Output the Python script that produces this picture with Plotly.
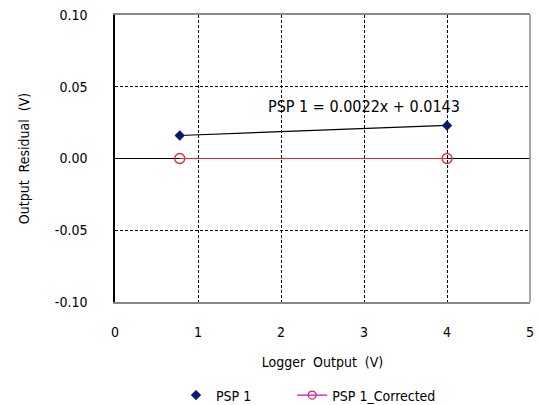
import plotly.graph_objects as go

# Data
logger_output = [0.78, 4.0]
psp1_residual = [0.016, 0.023]
psp1_corrected = [0.0, 0.0]
trend_slope = 0.0022
trend_intercept = 0.0143
x_ticks = [0, 1, 2, 3, 4, 5]
y_ticks = [-0.10, -0.05, 0.00, 0.05, 0.10]
y_tick_text = ["-0.10", "-0.05", "0.00", "0.05", "0.10"]

trend_y = [trend_slope * x + trend_intercept for x in logger_output]

FAM = "Liberation Sans Narrow, DejaVu Sans Condensed, Arial Narrow, sans-serif"
font = dict(family=FAM, size=14, color="black")

fig = go.Figure()
fig.add_trace(go.Scatter(x=logger_output, y=trend_y, mode="lines",
                         line=dict(color="black", width=1.2), showlegend=False,
                         hoverinfo="skip"))
fig.add_trace(go.Scatter(x=logger_output, y=psp1_corrected, mode="lines+markers",
                         name="PSP 1_Corrected", showlegend=False,
                         line=dict(color="#e8242c", width=1.2),
                         marker=dict(symbol="circle-open", size=10, color="#e8242c",
                                     line=dict(width=1.3))))
fig.add_trace(go.Scatter(x=logger_output, y=psp1_residual, mode="markers",
                         name="PSP 1", legend="legend",
                         marker=dict(symbol="diamond", size=8, color="#0a1a6e")))
# legend entry for the corrected series (legend swatch is drawn magenta in the original)
fig.add_trace(go.Scatter(x=[None], y=[None], mode="lines+markers",
                         name="PSP 1_Corrected", legend="legend2",
                         line=dict(color="#cc11bb", width=1.2),
                         marker=dict(symbol="circle-open", size=8, color="#dd2277",
                                     line=dict(width=1.2))))

fig.add_annotation(x=3.0, y=0.036, xref="x", yref="y",
                   text="PSP 1 = 0.0022x + 0.0143", showarrow=False,
                   font=dict(family=FAM, size=16, color="black"))

fig.add_shape(type="line", xref="paper", yref="paper", x0=1, x1=1, y0=0, y1=1,
              line=dict(color="#888888", width=1.5))

fig.update_layout(
    width=539, height=405,
    margin=dict(l=115, r=9, t=15, b=103, autoexpand=False),
    paper_bgcolor="white", plot_bgcolor="white",
    font=font,
    legend=dict(orientation="h", x=0.147, xanchor="left", y=-0.27, yanchor="top",
                font=font, itemwidth=30),
    legend2=dict(orientation="h", x=0.427, xanchor="left", y=-0.27, yanchor="top",
                 font=font, itemwidth=30),
    xaxis=dict(range=[0, 5], tickvals=x_ticks, showgrid=True, gridcolor="black",
               griddash="3px,2px", gridwidth=1, showline=True, linecolor="#888888",
               linewidth=1.5, mirror=True, zeroline=False, ticks="",
               automargin=False, ticklabelstandoff=16,
               title=dict(text="Logger  Output  (V)", font=font, standoff=19),
               tickfont=font),
    yaxis=dict(range=[-0.10, 0.10], tickvals=y_ticks, ticktext=y_tick_text,
               showgrid=True, gridcolor="black", griddash="3px,2px", gridwidth=1,
               showline=True, linecolor="black", linewidth=1.5, mirror=False,
               zeroline=True, zerolinecolor="black", zerolinewidth=1.2, ticks="",
               ticklabelstandoff=23, automargin=False,
               title=dict(text="Output  Residual  (V)", font=font, standoff=22),
               tickfont=font),
)

fig.write_html("out.html", config={"displayModeBar": False},
               post_script="document.body.style.margin='0';document.body.style.padding='0';")
